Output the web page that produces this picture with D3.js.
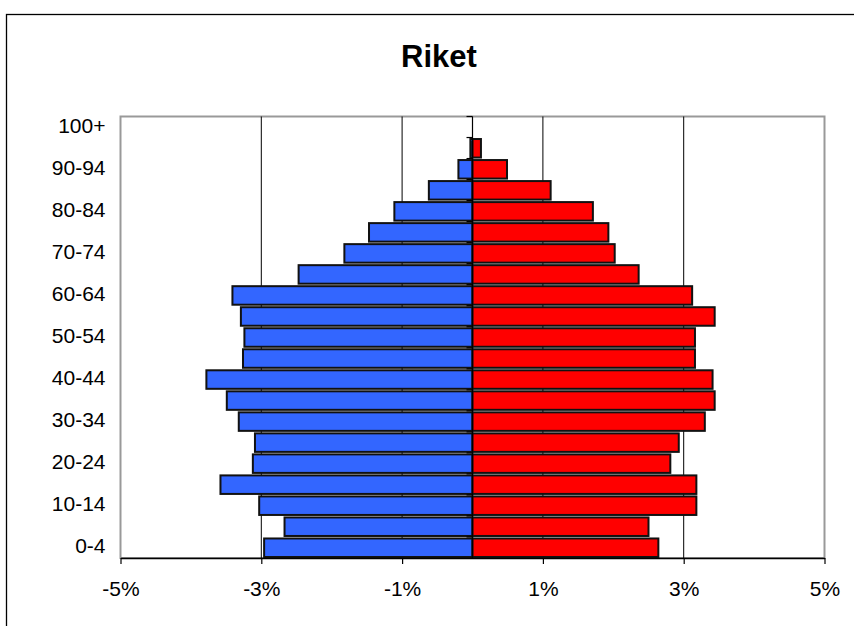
<!DOCTYPE html>
<html>
<head>
<meta charset="utf-8">
<script src="https://cdn.jsdelivr.net/npm/d3@7"></script>
<style>
  html, body { margin: 0; padding: 0; background: #fff; }
  svg { display: block; font-family: "Liberation Sans", Arial, sans-serif; }
</style>
</head>
<body>
<svg id="chart" width="854" height="626"></svg>
<script>
// Age groups, youngest first
const ageGroups = ["0-4","5-9","10-14","15-19","20-24","25-29","30-34","35-39","40-44","45-49",
  "50-54","55-59","60-64","65-69","70-74","75-79","80-84","85-89","90-94","95-99","100+"];
// Share of total population (%), men drawn to the left, women to the right
const men   = [-2.96,-2.67,-3.03,-3.58,-3.12,-3.09,-3.32,-3.49,-3.78,-3.26,
  -3.24,-3.29,-3.41,-2.47,-1.82,-1.47,-1.11,-0.62,-0.20,-0.03,0];
const women = [2.64,2.50,3.18,3.18,2.81,2.93,3.30,3.44,3.41,3.16,
  3.16,3.44,3.12,2.36,2.02,1.93,1.71,1.11,0.49,0.12,0];
const xTicks = [-5,-3,-1,1,3,5];
const gridValues = [-3,-1,1,3];
const labelledGroups = ["0-4","10-14","20-24","30-34","40-44","50-54","60-64","70-74","80-84","90-94","100+"];
const title = "Riket";

const svg = d3.select("#chart");
const plotLeft = 120.5, plotRight = 824.5, plotTop = 116.5, plotBottom = 558;
const labelFont = "'Liberation Sans', Arial, sans-serif";

const x = d3.scaleLinear().domain([-5, 5]).range([plotLeft, plotRight]);
const y = d3.scaleBand().domain(ageGroups.slice().reverse()).range([plotTop, plotBottom]).padding(0);

// outer chart frame
svg.append("rect")
  .attr("x", 6.5).attr("y", 14.5).attr("width", 900).attr("height", 700)
  .attr("fill", "#fff").attr("stroke", "#000").attr("stroke-width", 1.3);

// title
svg.append("text")
  .attr("x", 439).attr("y", 67)
  .attr("text-anchor", "middle")
  .attr("font-weight", "bold").attr("font-size", 31)
  .text(title);

// plot area frame
svg.append("rect")
  .attr("x", plotLeft).attr("y", plotTop).attr("width", plotRight - plotLeft).attr("height", plotBottom - plotTop)
  .attr("fill", "#fff").attr("stroke", "#999").attr("stroke-width", 2);

// vertical gridlines
svg.append("g").selectAll("line").data(gridValues).join("line")
  .attr("x1", d => x(d)).attr("x2", d => x(d))
  .attr("y1", plotTop).attr("y2", plotBottom)
  .attr("stroke", "#000").attr("stroke-width", 1);

// bars (empty groups get no bar)
const rows = ageGroups.map((g, i) => ({ group: g, men: men[i], women: women[i] }));
const barInset = 1.5, barTrim = 2.5;

const bars = svg.append("g");
bars.selectAll("rect.men").data(rows.filter(d => d.men !== 0)).join("rect")
  .attr("class", "men")
  .attr("x", d => x(d.men)).attr("width", d => x(0) - x(d.men))
  .attr("y", d => y(d.group) + barInset).attr("height", y.bandwidth() - barTrim)
  .attr("fill", "#3366ff").attr("stroke", "#111").attr("stroke-width", 2);
bars.selectAll("rect.women").data(rows.filter(d => d.women !== 0)).join("rect")
  .attr("class", "women")
  .attr("x", x(0)).attr("width", d => x(d.women) - x(0))
  .attr("y", d => y(d.group) + barInset).attr("height", y.bandwidth() - barTrim)
  .attr("fill", "#ff0000").attr("stroke", "#111").attr("stroke-width", 2);

// zero axis with category boundary ticks
const zeroAxis = svg.append("g");
zeroAxis.append("line")
  .attr("x1", x(0)).attr("x2", x(0)).attr("y1", plotTop).attr("y2", plotBottom)
  .attr("stroke", "#000").attr("stroke-width", 1.2);
zeroAxis.selectAll("line.tick").data(ageGroups).join("line")
  .attr("class", "tick")
  .attr("x1", x(0) - 6).attr("x2", x(0))
  .attr("y1", d => y(d)).attr("y2", d => y(d))
  .attr("stroke", "#000").attr("stroke-width", 1.2);

// category labels
const yAxis = svg.append("g")
  .attr("transform", `translate(${plotLeft},-1)`)
  .call(d3.axisLeft(y).tickValues(labelledGroups).tickSize(0).tickPadding(15));
yAxis.select(".domain").remove();
yAxis.selectAll("text").attr("font-size", 21).attr("fill", "#000").style("font-family", labelFont);

// bottom value axis
const xAxis = svg.append("g")
  .attr("transform", `translate(0,${plotBottom})`)
  .call(d3.axisBottom(x).tickValues(xTicks).tickFormat(d => d + "%").tickSize(6).tickPadding(17).tickSizeOuter(0));
xAxis.select(".domain").attr("stroke", "#000").attr("stroke-width", 1.5);
xAxis.selectAll("line").attr("stroke", "#000").attr("stroke-width", 1.2);
xAxis.selectAll("text").attr("font-size", 21).attr("fill", "#000").style("font-family", labelFont);
</script>
</body>
</html>
